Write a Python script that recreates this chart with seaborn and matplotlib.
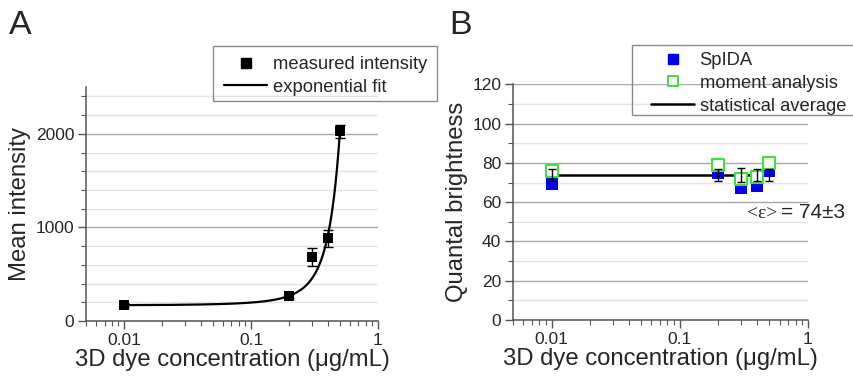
import numpy as np
import pandas as pd
import matplotlib
matplotlib.use("Agg")
import matplotlib.pyplot as plt
from matplotlib.lines import Line2D
from matplotlib.patches import Rectangle
from matplotlib.ticker import LogLocator, MultipleLocator, NullFormatter, FixedLocator, FixedFormatter
import seaborn as sns

# ---------------- data ----------------
conc = [0.01, 0.2, 0.3, 0.4, 0.5]                 # µg/mL
intensity = [170, 270, 684, 883, 2025]            # panel A, measured
intensity_err = [20, 20, 95, 90, 70]
# exponential fit y = y0 + A*exp(x/t)
fit_y0, fit_A, fit_t = 148.0, 19.7, 0.11
fit_range = [0.01, 0.5]

spida = [69, 75, 67, 68, 76]                      # panel B
moment = [76, 79, 72, 73, 80]
avg_value = 74
avg_err = [3, 3, 3.5, 3, 3]

xticks = [0.01, 0.1, 1]
xticklabels = ["0.01", "0.1", "1"]

# ---------------- style ----------------
sns.set_style("white")
plt.rcParams["font.family"] = ["Liberation Sans", "DejaVu Sans"]

fig = plt.figure(figsize=(8.54, 3.77), dpi=100)
W, H = 854, 377
def axrect(l, r, t, b):
    return [l / W, 1 - b / H, (r - l) / W, (b - t) / H]

axA = fig.add_axes(axrect(86, 378, 87, 321))
axB = fig.add_axes(axrect(513, 808, 84.3, 320))

major_grid = "#a8a8a8"
minor_grid = "#e4e4e4"
spine_c = "#555555"
tick_fs = 12.5
label_fs = 17.2
leg_fs = 13.2

def style_axis(ax, ymax, ymajor, yminor):
    ax.set_xscale("log")
    ax.set_xlim(0.005, 1)
    ax.set_ylim(0, ymax)
    ax.xaxis.set_major_locator(FixedLocator(xticks))
    ax.xaxis.set_major_formatter(FixedFormatter(xticklabels))
    ax.xaxis.set_minor_locator(LogLocator(base=10, subs=np.arange(2, 10)))
    ax.xaxis.set_minor_formatter(NullFormatter())
    ax.yaxis.set_major_locator(MultipleLocator(ymajor))
    ax.yaxis.set_minor_locator(MultipleLocator(yminor))
    ax.grid(False)
    ax.yaxis.grid(True, which="major", color=major_grid, lw=1.0, zorder=0)
    ax.yaxis.grid(True, which="minor", color=minor_grid, lw=1.0, zorder=0)
    ax.xaxis.grid(False, which="both")
    for s in ["top", "right"]:
        ax.spines[s].set_visible(False)
    for s in ["left", "bottom"]:
        ax.spines[s].set_color(spine_c)
        ax.spines[s].set_linewidth(1.1)
    ax.tick_params(axis="both", which="major", direction="out", length=6, width=1,
                   color=spine_c, labelsize=tick_fs, pad=2.5, left=True, bottom=True)
    ax.tick_params(axis="both", which="minor", direction="out", length=3.5, width=0.8,
                   color=spine_c, left=True, bottom=True)
    ax.set_axisbelow(True)
    ax.set_xlabel("3D dye concentration (μg/mL)", fontsize=label_fs, labelpad=1)

def px(x, y):
    return (x / W, 1 - y / H)

def frame(x0, y0, x1, y1):
    fig.patches.append(Rectangle(px(x0, y1), (x1 - x0) / W, (y1 - y0) / H,
                                 transform=fig.transFigure, fill=False,
                                 edgecolor="#8a8a8a", lw=1.0, zorder=10))

leg_kw = dict(loc="upper left", fontsize=leg_fs, frameon=False, borderaxespad=0,
              borderpad=0, handlelength=2.35, handletextpad=0.3, labelspacing=0.32)

# ---------------- panel A ----------------
style_axis(axA, 2500, 1000, 200)
xf = np.logspace(np.log10(fit_range[0]), np.log10(fit_range[1]), 300)
yf = fit_y0 + fit_A * np.exp(xf / fit_t)
sns.lineplot(x=xf, y=yf, ax=axA, color="black", lw=1.6, zorder=3, legend=False)
axA.errorbar(conc, intensity, yerr=intensity_err, fmt="none", ecolor="black",
             elinewidth=1.0, capsize=3.5, capthick=1.0, zorder=4)
sns.scatterplot(x=conc, y=intensity, ax=axA, marker="s", s=55, color="black",
                edgecolor="black", linewidth=0, zorder=5, legend=False)
axA.set_ylabel("Mean intensity", fontsize=label_fs, labelpad=3)

hA = [Line2D([], [], marker="s", ms=6.5, color="black", ls="none"),
      Line2D([], [], color="black", lw=1.6)]
frame(213, 46, 437, 101)
fig.legend(hA, ["measured intensity", "exponential fit"],
           bbox_to_anchor=px(224, 56), **leg_kw)

# ---------------- panel B ----------------
style_axis(axB, 120, 20, 10)
green = "#3fe03f"
blue = "#0000ee"
sns.lineplot(x=[conc[0], conc[-1]], y=[avg_value, avg_value], ax=axB, color="black",
             lw=1.8, zorder=3, legend=False)
sns.scatterplot(x=conc, y=spida, ax=axB, marker="s", s=85, color=blue,
                edgecolor=blue, linewidth=0, zorder=4, legend=False)
sns.scatterplot(x=conc, y=moment, ax=axB, marker="s", s=65, facecolor="white",
                edgecolor=green, linewidth=1.5, zorder=5, legend=False)
axB.errorbar(conc, [avg_value] * len(conc), yerr=avg_err, fmt="none", ecolor="black",
             elinewidth=1.0, capsize=3.0, capthick=1.0, zorder=6)
axB.set_ylabel("Quantal brightness", fontsize=label_fs, labelpad=3)

fig.text(747 / W, 1 - 213 / H, "<ε>", fontsize=14, family=["Liberation Serif", "DejaVu Serif"],
         ha="left", va="center")
fig.text(781 / W, 1 - 213 / H, "= 74±3", fontsize=15, ha="left", va="center")

hB = [Line2D([], [], marker="s", ms=7.5, color=blue, ls="none"),
      Line2D([], [], marker="s", ms=7, markerfacecolor="white", markeredgecolor=green,
             markeredgewidth=1.4, ls="none"),
      Line2D([], [], color="black", lw=1.8)]
frame(632, 45, 860, 115)
fig.legend(hB, ["SpIDA", "moment analysis", "statistical average"],
           bbox_to_anchor=px(651, 52), **leg_kw)

# panel letters
fig.text(9 / W, 1 - 34 / H, "A", fontsize=24.5, ha="left", va="baseline")
fig.text(449 / W, 1 - 34 / H, "B", fontsize=24.5, ha="left", va="baseline")

fig.savefig("out.png", dpi=100)
